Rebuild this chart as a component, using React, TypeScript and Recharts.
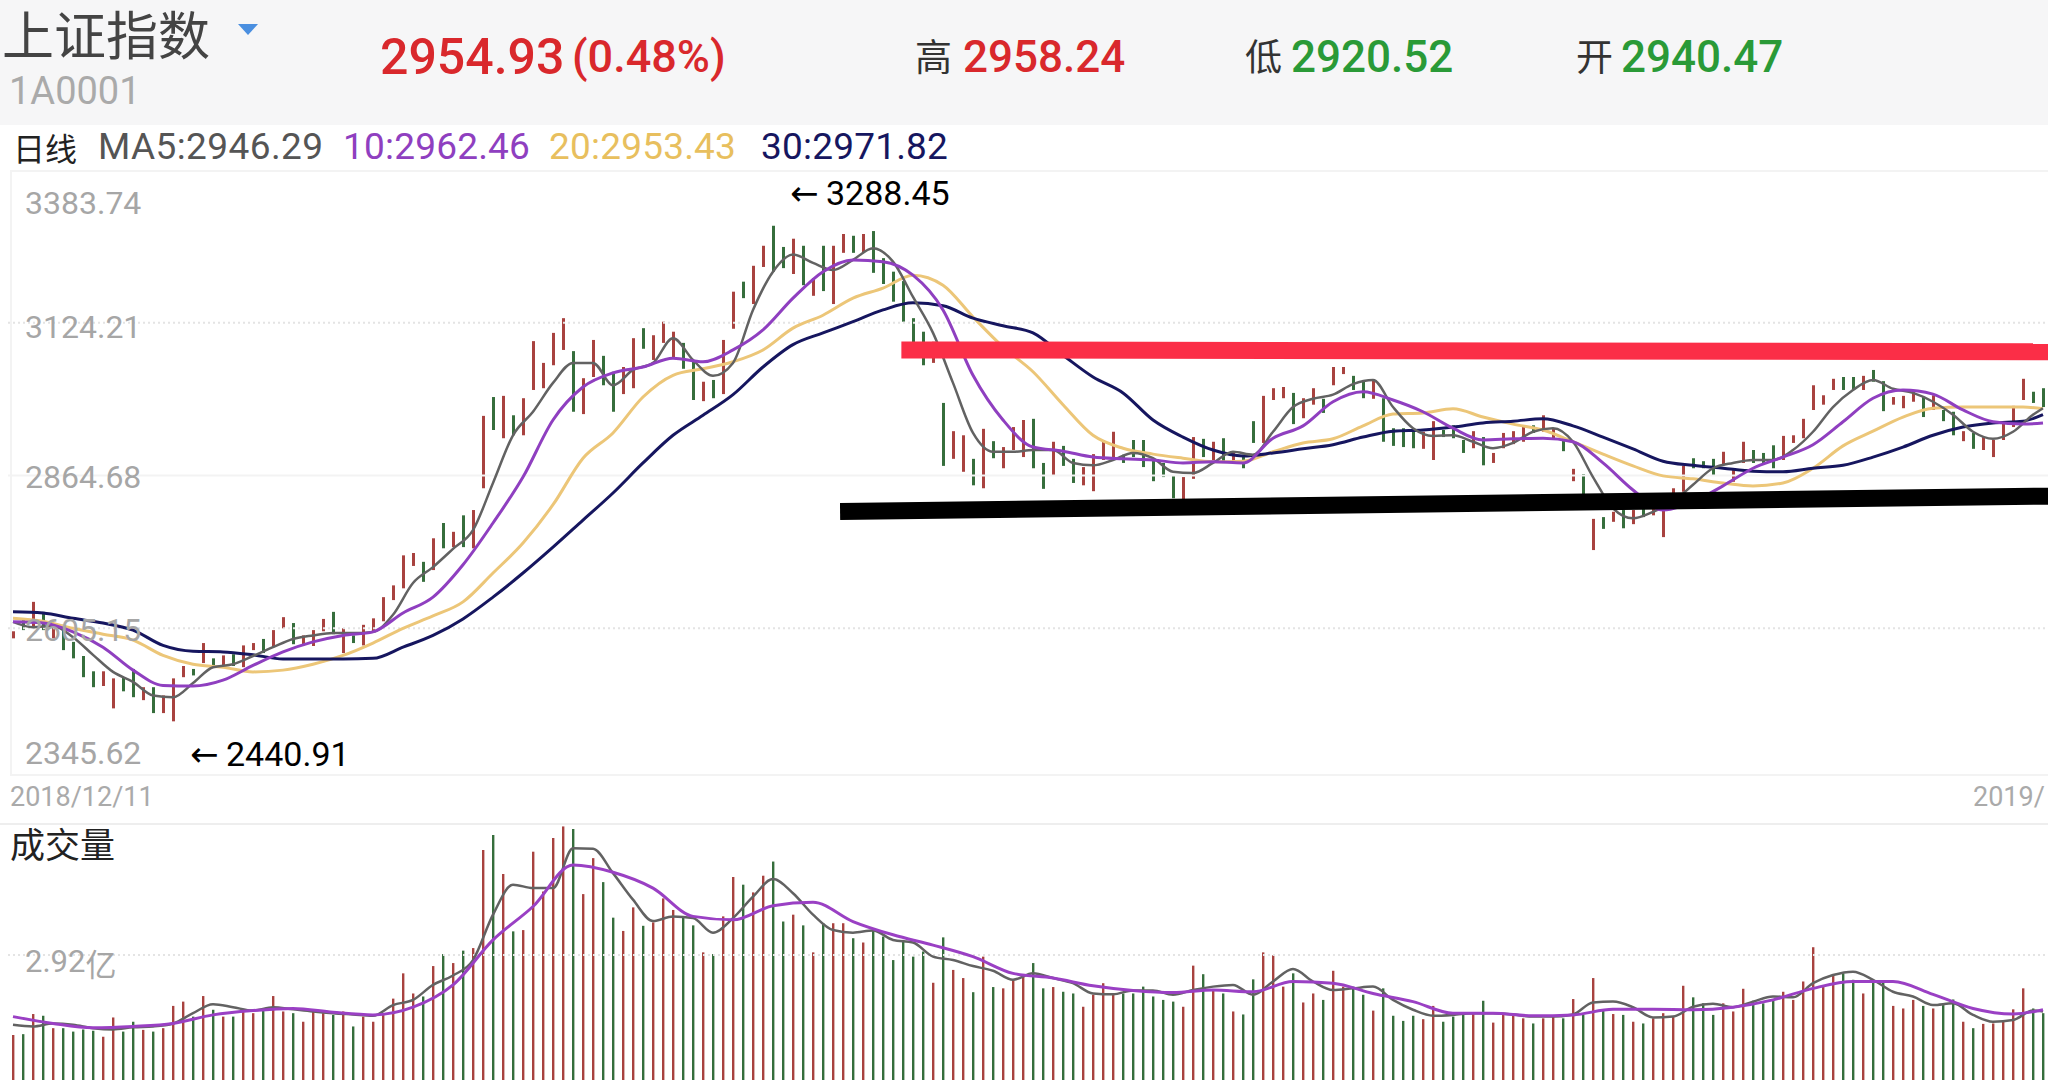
import React from 'react';
import { ComposedChart, Bar, Line, Cell, XAxis, YAxis, ReferenceLine } from 'recharts';

// Candle colour per session: r = up, g = down
const candleColors = (
  'rgrgrggggr' + 'rggrgrrrgr' + 'grgrrgrrgr' + 'rrgrgrrrrr' + 'rgrgrgrrgr' +
  'grrrrrgrrg' + 'grrgrrrggr' + 'grrgrrggrg' + 'rgrrgrgggg' + 'ggrgrrgrgr' +
  'rrggrggrrr' + 'rggggggrrg' + 'rgrggrrrgr' + 'rgrrggrggg' + 'grrgggrgrr' +
  'rrgrrgrgrg' + 'rgrgrrrrgg' + 'grrrgggrrr' + 'rrrggrggrr' + 'rgrggrgrrr' + 'rrgg'
).split('');

const highs = [
  2600,2619,2650,2633,2611,2611,2582,2558,2532,2532,
  2520,2522,2536,2505,2505,2491,2520,2541,2536,2580,
  2554,2559,2561,2576,2580,2587,2602,2624,2614,2593,
  2602,2621,2633,2605,2593,2611,2622,2658,2678,2729,
  2733,2718,2758,2784,2769,2797,2806,2966,2998,3000,
  2967,2996,3093,3056,3107,3132,3076,3030,3095,3068,
  3041,3049,3098,3115,3103,3126,3109,3090,3058,3024,
  3027,3095,3177,3194,3221,3255,3289,3253,3267,3255,
  3200,3255,3255,3275,3272,3275,3280,3234,3211,3195,
  3132,3109,3092,2988,2940,2933,2893,2944,2923,2913,
  2947,2959,2961,2886,2922,2915,2893,2879,2901,2925,
  2939,2900,2925,2925,2894,2886,2865,2862,2930,2927,
  2922,2928,2905,2900,2957,3000,3013,3015,3005,2996,
  3013,2995,3049,3049,3034,3027,3027,2996,2945,2945,
  2942,2939,2957,2942,2950,2925,2940,2930,2903,2937,
  2940,2950,2950,2967,2945,2928,2876,2867,2791,2794,
  2803,2806,2806,2811,2815,2809,2843,2881,2894,2889,
  2893,2905,2877,2922,2908,2903,2916,2932,2933,2961,
  3018,3001,3029,3032,3032,3034,3044,3025,2998,3000,
  3010,2998,3001,2976,2973,2940,2937,2930,2925,2954,
  2983,3029,3007,3013,
];

const lows = [
  2588,2602,2607,2602,2588,2568,2554,2522,2505,2507,
  2469,2498,2488,2483,2461,2461,2447,2522,2525,2546,
  2542,2542,2541,2539,2568,2563,2573,2605,2578,2576,
  2575,2600,2595,2563,2580,2576,2599,2617,2653,2673,
  2711,2684,2704,2741,2743,2743,2741,2843,2942,2928,
  2933,2933,3010,3013,3052,3078,2973,2969,3032,3018,
  2973,3003,3013,3080,3061,3090,3066,3046,2993,2991,
  2996,3003,3114,3166,3156,3219,3211,3217,3207,3188,
  3170,3178,3156,3243,3243,3243,3209,3190,3160,3126,
  3086,3052,3056,2881,2893,2871,2848,2843,2894,2877,
  2908,2896,2877,2842,2865,2881,2852,2848,2838,2891,
  2896,2886,2896,2879,2855,2862,2826,2823,2859,2896,
  2891,2886,2886,2877,2920,2920,2993,2996,2952,2962,
  2985,2971,3018,3037,3010,2996,2995,2922,2915,2913,
  2911,2910,2891,2930,2928,2903,2911,2882,2886,2911,
  2918,2922,2937,2939,2928,2906,2855,2831,2738,2774,
  2786,2775,2782,2794,2797,2760,2818,2837,2877,2877,
  2865,2882,2854,2886,2886,2886,2877,2891,2920,2928,
  2976,2985,3010,3010,3010,3010,3024,2974,2985,2979,
  2990,2964,2976,2957,2933,2923,2910,2908,2896,2925,
  2947,2993,2988,2981,
];

// Moving averages at every 2nd / 3rd session, plus the last session
const ma5 = [
  2616,2607,2609,2590,2560,2531,2514,2491,2488,2512,
  2539,2544,2558,2573,2587,2593,2597,2597,2599,2628,
  2682,2709,2740,2772,2852,2933,2973,3022,3056,3056,
  3018,3044,3056,3098,3061,3034,3056,3146,3211,3240,
  3226,3214,3231,3251,3228,3168,3107,3022,2937,2905,
  2905,2908,2908,2886,2882,2891,2903,2894,2871,2869,
  2886,2905,2900,2939,2981,2995,3002,3020,3027,2981,
  2945,2932,2933,2922,2911,2920,2939,2945,2922,2862,
  2809,2792,2803,2820,2849,2877,2886,2891,2891,2908,
  2939,2981,3010,3027,3012,3005,2990,2968,2939,2927,
  2939,2968,2979,
];
const ma10 = [
  2616,2614,2599,2573,2534,2508,2507,2517,2542,2565,
  2582,2593,2599,2631,2658,2713,2784,2862,2959,3015,
  3039,3049,3064,3058,3078,3112,3166,3211,3231,3228,
  3205,3146,3035,2959,2913,2906,2896,2893,2891,2886,
  2888,2886,2928,2949,2990,3007,2993,2973,2945,2925,
  2927,2928,2922,2886,2840,2806,2820,2847,2877,2896,
  2917,2956,2996,3010,3003,2976,2956,2952,2954,
];
const ma20 = [
  2622,2617,2605,2595,2585,2559,2544,2539,2531,2534,
  2544,2559,2580,2605,2626,2650,2699,2750,2815,2894,
  2937,2998,3035,3046,3058,3078,3115,3137,3166,3183,
  3205,3188,3134,3083,3041,2985,2933,2911,2901,2894,
  2888,2889,2905,2920,2927,2949,2969,2971,2978,2964,
  2952,2942,2922,2901,2881,2864,2859,2852,2847,2852,
  2877,2915,2940,2964,2979,2981,2981,2981,2978,
];
const ma30 = [
  2633,2631,2622,2614,2602,2576,2566,2565,2560,2553,
  2553,2553,2554,2573,2593,2621,2658,2699,2743,2789,
  2835,2886,2933,2967,3002,3049,3087,3107,3126,3146,
  3158,3153,3132,3119,3107,3069,3032,3005,2959,2930,
  2908,2898,2903,2910,2917,2930,2940,2942,2947,2954,
  2957,2961,2949,2930,2910,2889,2882,2877,2872,2871,
  2877,2882,2896,2913,2933,2947,2954,2957,2968,
];

// Volume, in 亿
const volumes = [
  1.05,1.07,1.54,1.50,1.21,1.21,1.13,1.18,1.15,1.01,
  1.46,1.13,1.36,1.17,1.13,1.21,1.73,1.83,1.48,1.96,
  1.64,1.48,1.48,1.60,1.56,1.67,1.96,1.60,1.56,1.36,
  1.60,1.56,1.52,1.60,1.25,1.48,1.36,1.56,1.90,2.49,
  2.02,1.95,2.66,2.94,2.73,3.02,3.08,5.37,5.72,4.81,
  3.47,3.50,5.33,4.40,5.65,5.92,5.86,4.34,5.18,4.62,
  3.79,3.48,4.03,3.60,3.68,4.24,3.97,3.82,3.61,2.98,
  2.94,3.82,4.74,4.56,4.38,4.77,5.10,3.70,3.86,3.61,
  2.98,3.66,3.66,3.66,3.31,3.21,3.54,3.35,2.80,3.27,
  2.88,3.00,2.27,3.33,2.57,2.38,2.05,2.88,2.17,2.14,
  2.34,2.41,2.73,2.14,2.17,2.06,2.02,1.71,1.99,2.26,
  2.02,2.02,2.02,2.18,1.95,1.87,1.83,1.71,2.67,2.47,
  2.10,2.02,1.60,1.53,2.35,2.98,2.91,2.18,2.49,1.81,
  2.02,1.87,2.55,2.18,2.18,1.99,1.62,2.14,1.50,1.38,
  1.50,1.42,1.73,1.36,1.48,1.52,1.56,1.85,1.34,1.52,
  1.52,1.44,1.32,1.44,1.48,1.44,1.89,1.52,2.38,1.64,
  1.54,1.52,1.36,1.32,1.44,1.56,1.48,2.20,1.93,1.79,
  1.52,1.79,1.60,2.13,1.85,1.79,1.88,2.06,1.87,2.30,
  3.10,2.18,2.47,2.49,2.34,2.02,2.30,2.27,1.73,1.67,
  1.87,1.73,1.67,1.75,1.88,1.36,1.21,1.31,1.32,1.36,
  1.65,2.14,1.67,1.56,
];
const volMa5 = [
  1.29,1.25,1.32,1.29,1.21,1.18,1.23,1.25,1.32,1.56,
  1.77,1.70,1.62,1.70,1.65,1.60,1.56,1.53,1.50,1.75,
  1.87,2.22,2.44,2.80,3.86,4.56,4.48,4.48,5.41,5.40,
  4.83,4.21,3.71,3.82,3.78,3.44,3.78,4.28,4.69,4.36,
  3.86,3.50,3.44,3.49,3.27,3.21,2.88,2.80,2.66,2.55,
  2.34,2.49,2.38,2.26,2.02,2.00,2.09,2.09,1.99,2.10,
  2.18,2.22,1.99,2.30,2.59,2.30,2.10,2.14,2.18,1.87,
  1.64,1.50,1.52,1.56,1.56,1.53,1.48,1.48,1.53,1.81,
  1.83,1.70,1.46,1.48,1.71,1.78,1.70,1.83,1.95,1.93,
  2.26,2.45,2.53,2.34,2.06,1.95,1.75,1.79,1.52,1.36,
  1.40,1.62,1.60,
];
const volMa10 = [
  1.48,1.32,1.22,1.25,1.32,1.52,1.62,1.67,1.58,1.52,
  1.70,2.22,3.27,4.05,5.02,4.85,4.48,3.82,3.74,4.07,
  4.15,3.70,3.39,3.15,2.88,2.49,2.38,2.20,2.09,2.04,
  2.10,2.06,2.30,2.26,2.02,1.83,1.56,1.56,1.50,1.52,
  1.65,1.65,1.64,1.70,1.87,2.14,2.30,2.30,2.00,1.67,
  1.54,1.64,
];

const priceTicks = [3383.74, 3124.21, 2864.68, 2605.15, 2345.62];
const priceGridDotted = [3124.21, 2605.15];
const priceGridFaint = [2864.68];
const volumeTicks = [2.92];

const COUNT = highs.length;
const RED = '#a8423f';
const GREEN = '#366e3c';
const MA5C = '#626262';
const MA10C = '#8f3fc0';
const MA20C = '#ecc678';
const MA30C = '#16165f';
const NUM = 'Roboto, sans-serif';
const CJK = '"Noto Sans CJK SC", sans-serif';

// Known values go on their own sessions; the line simply joins them.
function spread(values: number[], step: number) {
  const out: (number | null)[] = new Array(COUNT).fill(null);
  values.forEach((v, k) => {
    out[Math.min(k * step, COUNT - 1)] = v;
  });
  return out;
}

const ma5S = spread(ma5, 2);
const ma10S = spread(ma10, 3);
const ma20S = spread(ma20, 3);
const ma30S = spread(ma30, 3);
const volMa5S = spread(volMa5, 2);
const volMa10S = spread(volMa10, 4);

const priceRows = highs.map((h, i) => ({
  idx: i,
  range: [lows[i], h],
  ma5: ma5S[i],
  ma10: ma10S[i],
  ma20: ma20S[i],
  ma30: ma30S[i],
}));
const volumeRows = volumes.map((v, i) => ({
  idx: i,
  vol: v,
  ma5: volMa5S[i],
  ma10: volMa10S[i],
}));

const PRICE_LABEL_SHIFT = [33, 4, 1, 2, -28];

const PriceTick = (props: any) => (
  <text
    x={25}
    y={props.y + (PRICE_LABEL_SHIFT[props.index] ?? 0)}
    dominantBaseline="central"
    textAnchor="start"
    fontFamily={NUM}
    fontSize={32}
    fill="#a6a6a6"
  >
    {props.payload.value.toFixed(2)}
  </text>
);

const VolumeTick = (props: any) => (
  <text
    x={25}
    y={props.y + 7}
    dominantBaseline="central"
    textAnchor="start"
    fontFamily={NUM}
    fontSize={31}
    fill="#a6a6a6"
  >
    {props.payload.value.toFixed(2)}
    <tspan fontFamily={CJK}>亿</tspan>
  </text>
);

const T = ({ x, y, size, color, font = NUM, weight = 400, children, spacing = 0 }: any) => (
  <div
    style={{
      position: 'absolute',
      left: x,
      top: y,
      transform: 'translateY(-50%)',
      fontFamily: font,
      fontSize: size,
      lineHeight: 1.2,
      color,
      fontWeight: weight,
      letterSpacing: spacing,
      whiteSpace: 'nowrap',
    }}
  >
    {children}
  </div>
);

const maLine = (key: string, color: string, width: number) => (
  <Line
    dataKey={key}
    stroke={color}
    strokeWidth={width}
    dot={false}
    activeDot={false}
    connectNulls
    type="monotone"
    isAnimationActive={false}
    legendType="none"
  />
);

export default function App() {
  return (
    <div
      style={{
        position: 'absolute',
        left: 0,
        top: 0,
        width: 2048,
        height: 1084,
        overflow: 'hidden',
        background: '#fff',
      }}
    >
      <div style={{ position: 'absolute', left: 0, top: 0, width: 2048, height: 125, background: '#f6f6f7' }} />
      <T x={2} y={33} size={52} color="#444" font={CJK}>上证指数</T>
      <div
        style={{
          position: 'absolute',
          left: 238,
          top: 24,
          width: 0,
          height: 0,
          borderLeft: '10px solid transparent',
          borderRight: '10px solid transparent',
          borderTop: '11px solid #4a8fe0',
        }}
      />
      <T x={9} y={92} size={38} color="#aaa">1A0001</T>
      <T x={380} y={57} size={50} color="#d9282c" weight={500}>2954.93</T>
      <T x={572} y={57} size={45} color="#d9282c" weight={500}>(0.48%)</T>
      <T x={915} y={55} size={37} color="#333" font={CJK}>高</T>
      <T x={963} y={57} size={44} color="#d9282c" weight={500}>2958.24</T>
      <T x={1245} y={55} size={37} color="#333" font={CJK}>低</T>
      <T x={1291} y={57} size={44} color="#2a9a37" weight={500}>2920.52</T>
      <T x={1576} y={55} size={37} color="#333" font={CJK}>开</T>
      <T x={1621} y={57} size={44} color="#2a9a37" weight={500}>2940.47</T>

      <T x={13} y={147} size={32} color="#222" font={CJK}>日线</T>
      <T x={98} y={147} size={37} color="#555" spacing={0.4}>MA5:2946.29</T>
      <T x={343} y={147} size={37} color={MA10C} spacing={0.2}>10:2962.46</T>
      <T x={549} y={147} size={37} color="#e8bf5e" spacing={0.2}>20:2953.43</T>
      <T x={761} y={147} size={37} color={MA30C} spacing={0.2}>30:2971.82</T>

      <div style={{ position: 'absolute', left: 10, top: 170, width: 2038, height: 606, boxSizing: 'border-box', borderTop: '2px solid #f3f3f3', borderLeft: '2px solid #f3f3f3', borderBottom: '2px solid #f3f3f3' }} />

      <div style={{ position: 'absolute', left: 0, top: 170 }}>
        <ComposedChart
          width={2048}
          height={611}
          data={priceRows}
          margin={{ top: 0, right: 0, bottom: 0, left: 8 }}
          barGap={0}
        >
          <XAxis xAxisId={0} dataKey="idx" type="category" hide />
          <XAxis xAxisId="px" type="number" domain={[0, COUNT]} hide />
          <YAxis
            mirror
            width={1}
            domain={[2345.62, 3383.74]}
            ticks={priceTicks}
            interval={0}
            allowDataOverflow
            tick={PriceTick}
            tickLine={false}
            axisLine={false}
          />
          {priceGridDotted.map((v) => (
            <ReferenceLine key={v} y={v} stroke="#e4e4e4" strokeWidth={2} strokeDasharray="2 3" />
          ))}
          {priceGridFaint.map((v) => (
            <ReferenceLine key={v} y={v} stroke="#f3f3f3" strokeWidth={2} />
          ))}
          <Bar dataKey="range" barSize={3} isAnimationActive={false} legendType="none">
            {priceRows.map((r) => (
              <Cell key={r.idx} fill={candleColors[r.idx] === 'r' ? RED : GREEN} />
            ))}
          </Bar>
          {maLine('ma20', MA20C, 3)}
          {maLine('ma30', MA30C, 3)}
          {maLine('ma5', MA5C, 2.5)}
          {maLine('ma10', MA10C, 3)}
          <ReferenceLine
            xAxisId="px"
            segment={[{ x: 88.9, y: 3078 }, { x: COUNT + 1, y: 3075 }]}
            stroke="#fb2e47"
            strokeWidth={17}
            ifOverflow="visible"
          />
          <ReferenceLine
            xAxisId="px"
            segment={[{ x: 82.8, y: 2803.5 }, { x: COUNT + 1, y: 2830 }]}
            stroke="#000"
            strokeWidth={17}
            ifOverflow="visible"
          />
        </ComposedChart>
      </div>

      <T x={790} y={193} size={34} color="#000" font='"DejaVu Sans", sans-serif'>←</T>
      <T x={826} y={193} size={34} color="#000">3288.45</T>
      <T x={190} y={754} size={34} color="#000" font='"DejaVu Sans", sans-serif'>←</T>
      <T x={226} y={754} size={34} color="#000">2440.91</T>
      <T x={10} y={797} size={27} color="#aaa">2018/12/11</T>
      <T x={1973} y={797} size={27} color="#aaa">2019/</T>

      <div style={{ position: 'absolute', left: 0, top: 823, width: 2048, height: 2, background: '#eeeeee' }} />

      <div style={{ position: 'absolute', left: 0, top: 823 }}>
        <ComposedChart
          width={2048}
          height={257}
          data={volumeRows}
          margin={{ top: 0, right: 0, bottom: 0, left: 8 }}
        >
          <XAxis dataKey="idx" type="category" hide />
          <YAxis
            mirror
            width={1}
            domain={[0, 6]}
            ticks={volumeTicks}
            interval={0}
            allowDataOverflow
            tick={VolumeTick}
            tickLine={false}
            axisLine={false}
          />
          {volumeTicks.map((v) => (
            <ReferenceLine key={v} y={v} stroke="#e4e4e4" strokeWidth={2} strokeDasharray="2 3" />
          ))}
          <Bar dataKey="vol" barSize={2.4} isAnimationActive={false} legendType="none">
            {volumeRows.map((r) => (
              <Cell key={r.idx} fill={candleColors[r.idx] === 'r' ? RED : GREEN} />
            ))}
          </Bar>
          {maLine('ma5', MA5C, 2.5)}
          {maLine('ma10', '#9a40c4', 3)}
        </ComposedChart>
      </div>
      <T x={10} y={843} size={35} color="#222" font={CJK}>成交量</T>
    </div>
  );
}
